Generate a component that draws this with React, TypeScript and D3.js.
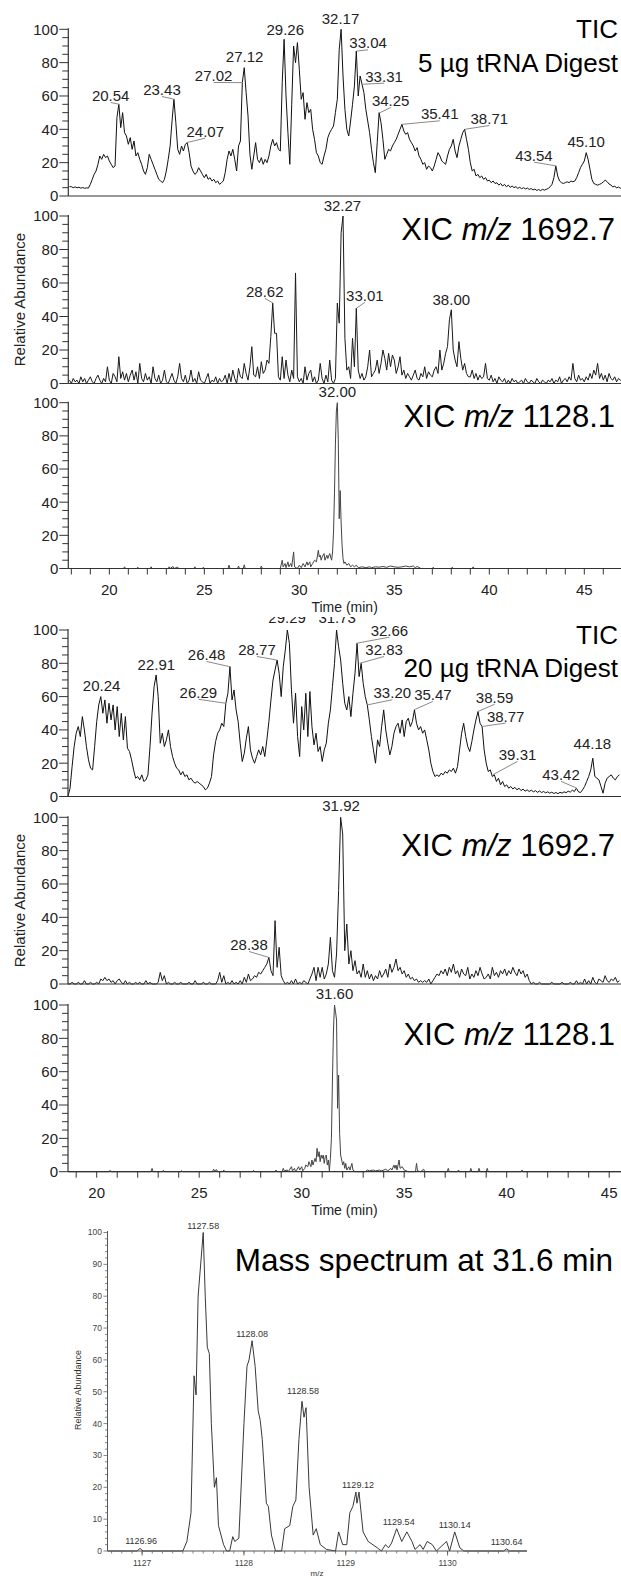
import React from 'react'
import * as d3 from 'd3'

const FONT = '"Liberation Sans", Arial, Helvetica, sans-serif'

type Pt = [number, number]

// ---- 5 µg digest (time grid starts 17.9 min, 0.1 min step) ----
const tic5Start = 17.9
const tic5 = [
  5.6,
  5.6, 5.0, 5.5, 4.9, 5.3, 4.7, 5.1, 4.6, 4.9, 4.7,
  7, 10, 13, 15, 19, 24, 22, 25, 23, 24,
  21, 19, 17, 18, 47, 55, 41, 50, 38, 36,
  31, 35, 28, 33, 24, 26, 22, 19, 15, 13,
  17, 25, 22, 19, 16, 13, 10, 9, 8, 10,
  15, 22, 30, 45, 58, 44, 28, 25, 30, 27,
  31, 32, 26, 18, 15, 13, 14, 17, 15, 13,
  11, 13, 10, 11, 9, 10, 8, 9, 7, 8,
  9, 14, 22, 27, 24, 28, 22, 15, 30, 33,
  68, 77, 62, 48, 25, 16, 24, 32, 22, 20,
  23, 19, 22, 20, 24, 30, 34, 30, 32, 28,
  27, 68, 94, 60, 38, 19, 55, 90, 80, 92,
  76, 58, 62, 46, 56, 50, 52, 40, 34, 26,
  24, 20, 19, 24, 28, 35, 38, 40, 42, 50,
  58, 88, 100, 72, 52, 40, 36, 45, 55, 66,
  87, 60, 72, 67, 62, 52, 45, 38, 28, 20,
  14, 32, 50, 44, 34, 22, 25, 28, 27, 30,
  32, 34, 37, 40, 43, 39, 37, 38, 34, 32,
  30, 27, 29, 24, 22, 19, 20, 16, 18, 17,
  15, 18, 22, 26, 24, 21, 20, 19, 24, 28,
  30, 34, 27, 23, 30, 34, 38, 40, 34, 28,
  20, 15, 16, 12, 13, 11, 12, 10, 11, 9,
  9.5, 8, 9, 7.5, 8, 6.5, 7.5, 6, 7, 5.5,
  6.5, 5.2, 6, 5, 5.6, 4.6, 5.2, 4.4, 5, 4.2,
  4.8, 3.9, 4.5, 3.6, 4.2, 3.3, 3.9, 3.2, 4, 3.5,
  4, 4.5, 5.5, 7, 11, 18, 12, 9, 8, 7.5,
  8, 8.5, 8, 9, 8.5, 9, 11, 14, 17, 19,
  21, 26, 22, 16, 10, 7.5, 7, 6.5, 7, 7.5,
  8.5, 9.5, 8.6, 7.2, 6.6, 5.4, 6, 4.8, 5.4, 4.6,
  4.6,
]

const xic1692Start5 = 17.9
const xic1692_5 = [
  2,
  0, 3, 1, 2, 0, 4, 1, 3, 0, 2,
  4, 1, 0, 3, 5, 2, 0, 3, 1, 10,
  2, 0, 6, 4, 1, 16, 3, 7, 2, 6,
  1, 5, 8, 2, 7, 0, 12, 3, 1, 6,
  2, 4, 0, 10, 3, 1, 5, 0, 2, 8,
  1, 0, 3, 6, 2, 0, 4, 12, 3, 1,
  5, 0, 2, 8, 1, 3, 0, 7, 2, 1,
  0, 3, 6, 0, 2, 1, 4, 0, 3, 1,
  2, 5, 0, 6, 1, 8, 3, 0, 9, 4,
  3, 12, 6, 2, 10, 22, 5, 4, 10, 3,
  13, 6, 8, 14, 12, 28, 48, 30, 30, 4,
  2, 16, 3, 14, 5, 1, 8, 3, 66, 4,
  1, 3, 0, 10, 2, 6, 8, 1, 4, 0,
  2, 12, 3, 0, 5, 1, 14, 2, 0, 3,
  48, 36, 90, 100, 27, 8, 10, 3, 27, 10,
  45, 8, 3, 6, 2, 4, 10, 20, 4, 6,
  8, 14, 6, 12, 20, 15, 8, 18, 10, 17,
  14, 6, 10, 16, 5, 8, 3, 6, 4, 2,
  5, 8, 3, 2, 6, 4, 10, 3, 7, 5,
  4, 8, 10, 6, 20, 8, 12, 18, 22, 38,
  44, 20, 14, 10, 25, 15, 8, 12, 6, 4,
  4, 8, 3, 6, 2, 5, 3, 4, 12, 3,
  2, 5, 1, 3, 0, 4, 2, 1, 3, 0,
  2, 0, 3, 1, 2, 0, 1, 2, 0, 3,
  1, 0, 2, 1, 0, 3, 1, 0, 2, 1,
  0, 2, 1, 3, 0, 2, 1, 4, 0, 2,
  3, 1, 4, 2, 12, 3, 1, 5, 2, 3,
  1, 4, 2, 6, 3, 8, 5, 12, 3, 6,
  2, 5, 1, 6, 3, 2, 4, 1, 3, 2,
  1,
]

const xic1128_5: Pt[] = [
  [17.84, 0], [20.75, 0], [20.8, 1], [20.85, 0], [21.45, 0], [21.5, 0.8], [21.55, 0],
  [22.15, 0], [22.2, 1], [22.25, 0], [23.1, 0], [23.15, 1], [23.2, 0], [23.35, 1.2], [23.4, 0],
  [23.6, 0.8], [23.65, 0], [24.45, 0], [24.5, 1], [24.55, 0], [24.9, 0], [24.95, 0.8], [25.0, 0],
  [26.25, 0], [26.3, 2], [26.35, 0], [26.75, 0], [26.8, 1.5], [26.85, 0], [27.05, 0], [27.1, 2.2],
  [27.15, 0], [27.95, 0], [28.0, 1.5], [28.05, 0], [29.0, 0], [29.1, 5], [29.15, 1], [29.25, 3],
  [29.3, 0.5], [29.4, 4], [29.45, 1], [29.55, 3], [29.6, 1], [29.7, 10], [29.75, 1], [29.9, 0],
  [30.0, 2], [30.1, 0.5], [30.2, 3], [30.3, 1], [30.4, 4], [30.45, 2], [30.55, 4], [30.6, 1],
  [30.7, 3], [30.8, 5], [30.9, 4], [31.0, 11], [31.05, 7], [31.1, 8], [31.15, 5], [31.2, 7],
  [31.3, 9], [31.35, 5], [31.45, 8], [31.5, 6], [31.6, 9], [31.7, 5], [31.75, 10], [31.8, 22],
  [31.85, 45], [31.9, 75], [31.95, 95], [32.0, 100], [32.05, 78], [32.1, 30], [32.15, 47],
  [32.2, 28], [32.25, 14], [32.3, 6], [32.35, 3], [32.4, 4], [32.5, 2], [32.6, 3], [32.7, 1],
  [32.8, 2], [32.9, 1], [33.0, 2], [33.1, 0.5], [33.3, 1], [33.5, 0.5], [33.7, 1], [33.8, 0.5],
  [34.0, 1], [34.2, 0.8], [34.4, 1.2], [34.6, 0.7], [34.8, 1.5], [35.0, 1], [35.2, 0.7], [35.4, 1],
  [35.6, 1.5], [35.8, 1], [36.0, 1.5], [36.1, 0.5], [36.2, 1.2], [36.4, 0], [37.0, 0], [37.05, 0.8],
  [37.1, 0], [38.0, 0], [38.05, 0.8], [38.1, 0], [39.1, 0], [39.15, 1], [39.2, 0], [47.1, 0],
]

const tic5Peaks = [20.54, 23.43, 24.07, 27.02, 27.12, 29.26, 32.17, 33.04, 33.31, 34.25, 35.41, 38.71, 43.54, 45.10]
const tic5Levels = [55, 58, 32, 68, 77, 94, 100, 87, 67, 50, 43, 40, 18, 26]
const tic5LabelAt: Pt[] = [
  [20.07, 57], [22.77, 60.6], [25.05, 35.6], [25.49, 69], [27.12, 80.2], [29.26, 96.5], [32.17, 103.2],
  [33.62, 88.6], [34.46, 68.6], [34.81, 54], [37.39, 46], [40.0, 43.2], [42.35, 21.2], [45.1, 29.6],
]
const xic1692Peaks5 = [28.62, 32.27, 33.01, 38.00]
const xic1692Levels5 = [48, 100, 45, 44]
const xic1692LabelAt5: Pt[] = [[28.18, 51.8], [32.27, 103], [33.45, 49.3], [38.0, 46.9]]
const xic1128Peaks5 = [32.00]
const xic1128Levels5 = [100]
const xic1128LabelAt5: Pt[] = [[32.0, 103.6]]

// ---- 20 µg digest (time grid starts 18.6 min, 0.1 min step) ----
const tic20Start = 18.6
const tic20 = [
  0, 5, 18, 30,
  38, 42, 36, 48, 40, 30, 22, 17, 16, 30,
  45, 55, 60, 50, 58, 44, 56, 46, 55, 40,
  54, 36, 50, 34, 48, 29, 27, 22, 16, 11,
  12, 10, 13, 9, 10, 13, 30, 50, 66, 73,
  60, 32, 38, 30, 34, 40, 30, 24, 20, 17,
  16, 13, 15, 12, 13, 10, 11, 9, 8, 9,
  8, 7, 6, 4, 5, 8, 12, 25, 33, 38,
  40, 44, 42, 56, 62, 78, 58, 64, 52, 45,
  32, 21, 26, 35, 42, 28, 23, 20, 24, 28,
  25, 30, 24, 34, 45, 58, 70, 76, 82, 74,
  60, 78, 88, 100, 92, 64, 44, 62, 36, 24,
  54, 40, 62, 36, 63, 42, 31, 38, 27, 30,
  21, 28, 32, 44, 52, 66, 80, 100, 90, 82,
  68, 56, 52, 60, 48, 62, 74, 92, 72, 80,
  68, 60, 55, 46, 36, 28, 20, 34, 30, 42,
  52, 40, 32, 25, 30, 38, 42, 44, 38, 46,
  36, 45, 47, 42, 45, 52, 44, 40, 42, 38,
  40, 34, 28, 20, 15, 12, 13, 12, 14, 13,
  15, 14, 16, 15, 17, 14, 18, 28, 38, 44,
  36, 30, 27, 33, 40, 46, 51, 44, 42, 28,
  20, 15, 16, 12, 13, 9, 11, 7, 9, 6,
  7, 5, 6, 4.5, 5.5, 4, 5, 3.5, 4.5, 3.2,
  4, 3, 3.8, 2.8, 3.5, 2.5, 3.3, 2.4, 3, 2.2,
  2.8, 2, 2.6, 1.8, 2.4, 1.7, 2.5, 2, 2.8, 2.3,
  3.2, 2.6, 3.8, 3, 5, 2.8, 2.4, 4, 6, 9,
  12, 16, 23, 12, 11, 10, 6, 2, 8, 11,
  12, 13, 11, 10, 12, 13,
]

const xic1692Start20 = 18.6
const xic1692_20 = [
  0, 0, 1, 0,
  0, 1, 0, 0, 2, 0, 0, 1, 0, 0,
  1, 0, 3, 2, 4, 2, 3, 1, 2, 0,
  2, 3, 1, 0, 2, 0, 1, 0, 0, 1,
  0, 1, 0, 0, 2, 0, 1, 0, 0, 0,
  1, 7, 2, 5, 0, 1, 0, 0, 1, 0,
  0, 1, 0, 0, 0, 1, 0, 0, 2, 0,
  0, 0, 1, 0, 0, 1, 0, 0, 0, 2,
  7, 1, 5, 0, 1, 0, 2, 0, 1, 0,
  2, 0, 4, 1, 6, 2, 3, 5, 4, 7,
  6, 8, 10, 12, 16, 8, 5, 38, 10, 22,
  5, 2, 0, 1, 0, 2, 0, 3, 0, 1,
  0, 2, 1, 0, 3, 6, 10, 2, 10, 4,
  10, 3, 6, 12, 28, 8, 4, 18, 56, 100,
  90, 20, 36, 12, 20, 8, 14, 6, 8, 4,
  12, 4, 8, 3, 6, 2, 5, 3, 8, 4,
  6, 9, 4, 12, 7, 10, 15, 8, 10, 6,
  8, 4, 6, 3, 4, 2, 3, 1, 2, 1,
  2, 1, 3, 0, 2, 4, 6, 5, 8, 6,
  9, 5, 10, 7, 12, 6, 8, 4, 9, 6,
  5, 10, 3, 6, 4, 8, 5, 10, 6, 3,
  4, 6, 3, 10, 5, 7, 4, 8, 6, 9,
  5, 8, 6, 10, 7, 5, 9, 6, 8, 4,
  6, 2, 0, 1, 0, 0, 1, 0, 0, 0,
  0, 0, 1, 0, 0, 0, 0, 1, 0, 0,
  0, 1, 0, 0, 2, 0, 1, 0, 3, 0,
  2, 0, 4, 1, 0, 3, 2, 1, 5, 2,
  1, 3, 2, 4, 1, 2,
]

const xic1128_20: Pt[] = [
  [18.6, 0], [20.6, 0], [20.65, 0.8], [20.7, 0], [22.65, 0], [22.7, 2], [22.75, 0], [23.2, 0],
  [23.25, 0.8], [23.3, 0], [24.1, 0], [24.15, 0.6], [24.2, 0], [25.65, 0], [25.7, 1.5], [25.75, 0.5],
  [25.85, 1.2], [25.9, 0], [26.15, 0], [26.2, 1], [26.25, 0], [27.6, 0], [27.65, 0.8], [27.7, 0],
  [28.7, 0], [28.75, 1], [28.8, 0], [29.05, 0], [29.1, 2], [29.15, 0.5], [29.3, 1], [29.35, 0],
  [29.5, 3], [29.55, 0.5], [29.65, 2], [29.7, 0], [29.85, 3], [29.9, 1], [30.0, 3], [30.05, 0.5],
  [30.15, 2], [30.2, 4], [30.3, 3], [30.35, 6], [30.45, 3], [30.5, 7], [30.55, 4], [30.65, 8],
  [30.7, 6], [30.75, 14], [30.8, 9], [30.85, 12], [30.9, 6], [30.95, 10], [31.0, 8], [31.05, 10],
  [31.1, 5], [31.15, 9], [31.2, 10], [31.25, 4], [31.3, 7], [31.35, 0.5], [31.4, 8], [31.45, 20],
  [31.5, 55], [31.55, 85], [31.6, 100], [31.65, 96], [31.7, 91], [31.75, 38], [31.8, 58],
  [31.85, 23], [31.9, 10], [31.95, 7], [32.0, 4], [32.05, 6], [32.1, 2], [32.15, 5], [32.2, 1],
  [32.3, 3], [32.35, 1], [32.45, 5], [32.5, 1], [32.6, 0], [33.1, 0], [33.2, 1], [33.3, 0.5],
  [33.5, 1], [33.6, 0.5], [33.8, 1], [33.9, 0.5], [34.1, 1.5], [34.2, 0.5], [34.35, 2], [34.4, 1],
  [34.5, 4], [34.55, 2], [34.6, 4], [34.65, 1], [34.75, 7], [34.8, 2], [34.9, 3], [35.0, 1],
  [35.2, 0], [35.55, 0], [35.6, 5], [35.65, 0.5], [35.8, 0], [35.95, 1.5], [36.0, 0], [37.1, 0],
  [37.15, 2], [37.2, 0], [37.6, 0], [37.65, 1], [37.7, 0], [38.2, 0], [38.25, 2], [38.3, 0],
  [38.6, 0], [38.65, 2], [38.7, 0], [39.0, 0], [39.05, 2], [39.1, 0], [40.7, 0], [40.75, 1],
  [40.8, 0], [45.6, 0],
]

const tic20Peaks = [20.24, 22.91, 26.29, 26.48, 28.77, 29.29, 31.73, 32.66, 32.83, 33.20, 35.47, 38.59, 38.77, 39.31, 43.42, 44.18]
const tic20Levels = [60, 73, 56, 78, 82, 100, 100, 92, 80, 55, 52, 51, 42, 13, 5, 23]
const tic20LabelAt: Pt[] = [
  [20.24, 63.3], [22.91, 76], [24.96, 59.3], [25.36, 82], [27.82, 85], [29.29, 104.5], [31.73, 104.5],
  [34.28, 96.6], [34.02, 85], [34.42, 59], [36.4, 58], [39.41, 56.3], [39.95, 45], [40.53, 22],
  [42.65, 10], [44.18, 28.5],
]
const xic1692Peaks20 = [28.38, 31.92]
const xic1692Levels20 = [16, 100]
const xic1692LabelAt20: Pt[] = [[27.43, 20.4], [31.92, 103.6]]
const xic1128Peaks20 = [31.60]
const xic1128Levels20 = [100]
const xic1128LabelAt20: Pt[] = [[31.6, 103.3]]

// ---- mass spectrum at 31.6 min ----
const msProfile: Pt[] = [
  [1126.66, 0], [1126.95, 0], [1126.98, 0.8], [1127.01, 0], [1127.4, 0], [1127.44, 3],
  [1127.48, 12], [1127.51, 55], [1127.53, 49], [1127.55, 80], [1127.6, 100], [1127.62, 80],
  [1127.64, 64], [1127.66, 62], [1127.68, 40], [1127.71, 20], [1127.73, 23], [1127.75, 8],
  [1127.8, 2], [1127.83, 0], [1127.86, 0], [1127.89, 4.5], [1127.91, 3], [1127.95, 4],
  [1128.0, 40], [1128.03, 58], [1128.05, 60], [1128.08, 66], [1128.11, 58], [1128.14, 44],
  [1128.16, 41], [1128.18, 35], [1128.22, 15], [1128.24, 14], [1128.27, 5], [1128.31, 0],
  [1128.37, 0], [1128.4, 7], [1128.45, 8], [1128.48, 14], [1128.51, 16], [1128.54, 35],
  [1128.57, 47], [1128.59, 42], [1128.61, 45], [1128.64, 20], [1128.68, 5], [1128.71, 7],
  [1128.75, 2], [1128.81, 0.5], [1128.9, 0], [1128.93, 6], [1128.97, 2], [1129.01, 2],
  [1129.04, 12], [1129.07, 14], [1129.1, 18.5], [1129.11, 15], [1129.13, 18.5], [1129.17, 6],
  [1129.22, 3], [1129.31, 1], [1129.35, 0], [1129.39, 2], [1129.42, 1], [1129.45, 2.5],
  [1129.5, 7], [1129.55, 3], [1129.6, 6], [1129.65, 3], [1129.68, 0.5], [1129.73, 2],
  [1129.76, 0.5], [1129.8, 3], [1129.85, 2], [1129.89, 0], [1129.94, 1.5], [1129.99, 3],
  [1130.02, 0], [1130.07, 6], [1130.12, 1], [1130.16, 0], [1130.55, 0], [1130.58, 0.7],
  [1130.61, 0], [1130.78, 0],
]
const msPeaks = [1126.96, 1127.58, 1128.08, 1128.58, 1129.12, 1129.54, 1130.14, 1130.64]
const msLevels = [0.8, 100, 66, 48, 18.5, 7, 6, 0.7]
const msLabelAt = [1126.99, 1127.6, 1128.08, 1128.58, 1129.12, 1129.52, 1130.07, 1130.58]

const onGrid = (start: number, vals: number[]): Pt[] =>
  vals.map((v, i) => [Math.round((start + i * 0.1) * 100) / 100, v])

const xA = d3.scaleLinear().domain([17.84, 47.0]).range([68.3, 622.3])
const xB = d3.scaleLinear().domain([18.6, 45.6]).range([68, 621.5])

type PanelProps = {
  x: d3.ScaleLinear<number, number>
  top: number
  bottom: number
  pts: Pt[]
  stroke: string
  peaks: number[]
  levels: number[]
  labelAt: Pt[]
  timeAxis?: boolean
  clip?: string
  children?: React.ReactNode
}

function Panel({ x, top, bottom, pts, stroke, peaks, levels, labelAt, timeAxis, clip, children }: PanelProps) {
  const y = d3.scaleLinear().domain([0, 100]).range([bottom, top])
  const [x0] = x.range()
  const line = d3.line<Pt>().x(d => x(d[0])).y(d => y(d[1]))
  const yTicks = d3.range(0, 101, 5)
  const [d0, d1] = x.domain()
  const tTicks = d3.range(Math.ceil(d0), Math.floor(d1) + 1)
  return (
    <g clipPath={clip ? `url(#${clip})` : undefined}>
      <path d={line(pts) || ''} fill="none" stroke={stroke} strokeWidth={1} strokeLinejoin="round" />
      <line x1={x0} x2={x0} y1={bottom} y2={top - 1} stroke="#333" strokeWidth={1.2} />
      <line x1={x0} x2={621} y1={bottom} y2={bottom} stroke="#333" strokeWidth={1.2} />
      {yTicks.map(v => (
        <line key={v} x1={x0 - (v % 20 === 0 ? 9 : 6)} x2={x0} y1={y(v)} y2={y(v)} stroke="#333" strokeWidth={1} />
      ))}
      {yTicks.filter(v => v % 20 === 0).map(v => (
        <text key={'l' + v} x={x0 - 10} y={y(v)} dy="0.36em" textAnchor="end" fontSize={15} fill="#222">{v}</text>
      ))}
      {timeAxis && tTicks.map(t => (
        <line key={'t' + t} x1={x(t)} x2={x(t)} y1={bottom} y2={bottom + 6} stroke="#333" strokeWidth={1} />
      ))}
      {timeAxis && tTicks.filter(t => t % 5 === 0).map(t => (
        <text key={'tl' + t} x={x(t)} y={bottom + 26} textAnchor="middle" fontSize={15} fill="#222">{t}</text>
      ))}
      {timeAxis && (
        <text x={(x0 + 621) / 2} y={bottom + 43} textAnchor="middle" fontSize={14} fill="#222">Time (min)</text>
      )}
      {peaks.map((p, i) => {
        const lx = x(labelAt[i][0])
        const ly = y(labelAt[i][1])
        const px = x(p)
        const py = y(levels[i])
        const lead = Math.abs(lx - px) > 4
        return (
          <g key={'p' + i}>
            {lead && <line x1={lx} y1={ly + 1.5} x2={px} y2={py} stroke="#8a8a8a" strokeWidth={1} />}
            <text x={lx} y={ly} textAnchor="middle" fontSize={15} fill="#222">{p.toFixed(2)}</text>
          </g>
        )
      })}
      {children}
    </g>
  )
}

const titleStyle = { fontSize: 26, fill: '#000' }

function XicTitle({ y, mz }: { y: number; mz: string }) {
  return (
    <text x={615} y={y} textAnchor="end" fontSize={31} fill="#000">
      XIC{' '}<tspan fontStyle="italic">m/z</tspan>{' ' + mz}
    </text>
  )
}

function MassSpectrum() {
  const x = d3.scaleLinear().domain([1126.66, 1130.78]).range([107.5, 527])
  const y = d3.scaleLinear().domain([0, 100]).range([1551, 1232.5])
  const line = d3.line<Pt>().x(d => x(d[0])).y(d => y(d[1]))
  const yMinor = d3.range(0, 101, 2)
  const yMajor = d3.range(0, 101, 10)
  const xMinor = d3.range(1126.7, 1130.78, 0.1)
  const xMajor = [1127, 1128, 1129, 1130]
  const base = y(0)
  return (
    <g>
      <path d={line(msProfile) || ''} fill="none" stroke="#222" strokeWidth={0.9} />
      <line x1={107.5} x2={107.5} y1={base} y2={y(100) - 1.5} stroke="#555" strokeWidth={1} />
      <line x1={107.5} x2={527} y1={base} y2={base} stroke="#555" strokeWidth={1} />
      {yMinor.map(v => (
        <line key={'ym' + v} x1={107.5 - (v % 10 === 0 ? 4 : 2.5)} x2={107.5} y1={y(v)} y2={y(v)} stroke="#666" strokeWidth={0.8} />
      ))}
      {yMajor.map(v => (
        <text key={'yl' + v} x={102} y={y(v)} dy="0.35em" textAnchor="end" fontSize={8.5} fill="#444">{v}</text>
      ))}
      {xMinor.map((m, i) => (
        <line key={'xm' + i} x1={x(m)} x2={x(m)} y1={base} y2={base + 2.5} stroke="#666" strokeWidth={0.8} />
      ))}
      {xMajor.map(m => (
        <g key={'xM' + m}>
          <line x1={x(m)} x2={x(m)} y1={base} y2={base + 4.5} stroke="#555" strokeWidth={0.9} />
          <text x={x(m)} y={base + 15} textAnchor="middle" fontSize={8.5} fill="#444">{m}</text>
        </g>
      ))}
      {msPeaks.map((p, i) => (
        <text key={'mp' + i} x={x(msLabelAt[i])} y={y(msLevels[i]) - 4} textAnchor="middle" fontSize={9} fill="#333">
          {p.toFixed(2)}
        </text>
      ))}
      <text transform="translate(81,1390) rotate(-90)" textAnchor="middle" fontSize={9} fill="#333">Relative Abundance</text>
      <text x={317} y={1575.5} textAnchor="middle" fontSize={8} fill="#333">m/z</text>
      <text x={613} y={1271} textAnchor="end" fontSize={31.5} fill="#000">Mass spectrum at 31.6 min</text>
    </g>
  )
}

export default function App() {
  return (
    <svg width={621} height={1577} style={{ position: 'absolute', left: 0, top: 0, background: '#fff' }}
      fontFamily={FONT}>
      <defs>
        <clipPath id="clipP4"><rect x={0} y={617} width={621} height={200} /></clipPath>
      </defs>
      <rect x={0} y={0} width={621} height={1577} fill="#fff" />

      <Panel x={xA} top={29.3} bottom={196} pts={onGrid(tic5Start, tic5)} stroke="#111"
        peaks={tic5Peaks} levels={tic5Levels} labelAt={tic5LabelAt}>
        <text x={618} y={38} textAnchor="end" {...titleStyle}>TIC</text>
        <text x={618} y={71.5} textAnchor="end" {...titleStyle}>5 µg tRNA Digest</text>
      </Panel>

      <Panel x={xA} top={216} bottom={383.5} pts={onGrid(xic1692Start5, xic1692_5)} stroke="#1a1a1a"
        peaks={xic1692Peaks5} levels={xic1692Levels5} labelAt={xic1692LabelAt5}>
        <XicTitle y={240} mz="1692.7" />
      </Panel>
      <text transform="translate(25,299.5) rotate(-90)" textAnchor="middle" fontSize={15} fill="#222">Relative Abundance</text>

      <Panel x={xA} top={402.7} bottom={568.5} pts={xic1128_5} stroke="#444"
        peaks={xic1128Peaks5} levels={xic1128Levels5} labelAt={xic1128LabelAt5} timeAxis>
        <XicTitle y={426.5} mz="1128.1" />
      </Panel>

      <Panel x={xB} top={630} bottom={796.5} pts={onGrid(tic20Start, tic20)} stroke="#111"
        peaks={tic20Peaks} levels={tic20Levels} labelAt={tic20LabelAt} clip="clipP4">
        <text x={618} y={644} textAnchor="end" {...titleStyle}>TIC</text>
        <text x={618} y={677} textAnchor="end" {...titleStyle}>20 µg tRNA Digest</text>
      </Panel>

      <Panel x={xB} top={817.3} bottom={984} pts={onGrid(xic1692Start20, xic1692_20)} stroke="#1a1a1a"
        peaks={xic1692Peaks20} levels={xic1692Levels20} labelAt={xic1692LabelAt20}>
        <XicTitle y={856} mz="1692.7" />
      </Panel>
      <text transform="translate(25,900.5) rotate(-90)" textAnchor="middle" fontSize={15} fill="#222">Relative Abundance</text>

      <Panel x={xB} top={1005} bottom={1171.7} pts={xic1128_20} stroke="#444"
        peaks={xic1128Peaks20} levels={xic1128Levels20} labelAt={xic1128LabelAt20} timeAxis>
        <XicTitle y={1045} mz="1128.1" />
      </Panel>

      <MassSpectrum />
    </svg>
  )
}
